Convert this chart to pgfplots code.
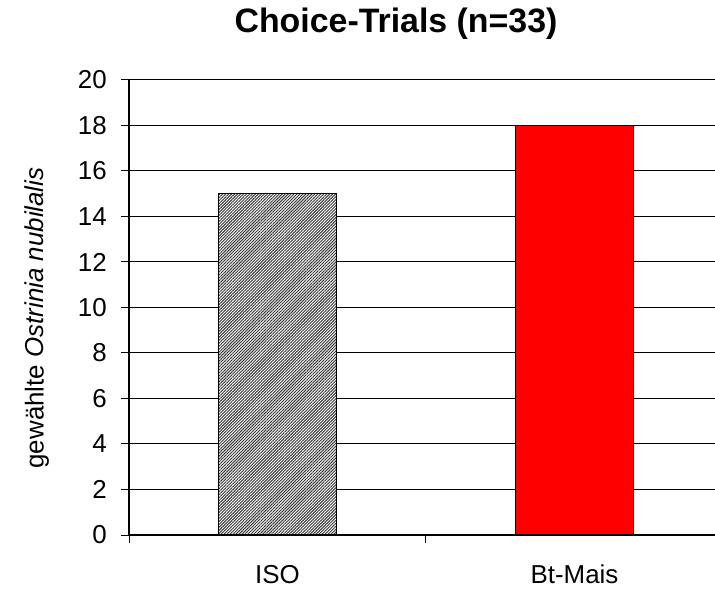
\documentclass[border=0pt]{standalone}
\usepackage{fontspec}
\setmainfont{Liberation Sans}
\usepackage{pgfplots}
\pgfplotsset{compat=1.18}
\usetikzlibrary{patterns.meta}
\begin{document}
\begin{tikzpicture}
\useasboundingbox (0,0) rectangle (715bp,589bp);
\begin{axis}[
  at={(129bp,54bp)}, anchor=south west,
  scale only axis, width=586bp, height=455bp,
  xmin=-0.5, xmax=1.4731, ymin=0, ymax=20,
  axis x line=bottom, axis y line=left,
  axis line style={-, line width=1.1bp, black},
  xtick={0,1}, xticklabels={ISO,Bt-Mais},
  minor xtick={-0.5,0.5,1.5},
  ytick={0,2,...,20},
  tick align=outside,
  major tick length=8bp, minor tick length=8bp,
  major x tick style={draw=none},
  tick style={black, line width=1bp},
  ymajorgrids, major grid style={black, line width=1bp},
  /pgf/number format/assume math mode=true,
  tick label style={font=\fontsize{26}{30}\selectfont, inner sep=0pt},
  yticklabel style={anchor=east, xshift=-14bp},
  xticklabel style={anchor=north, yshift=-22bp},
  clip=false,
]
\addplot[ybar, bar shift=0pt, bar width=118bp, draw=black, line width=1.3bp, fill=white,
  postaction={pattern={Lines[angle=45,distance=2.1bp,line width=0.95bp]}, pattern color=black!80}]
  coordinates {(0,15)};
\addplot[ybar, bar shift=0pt, bar width=118bp, draw=black, line width=1.3bp, fill=red]
  coordinates {(1,18)};
\end{axis}
\node[anchor=base, font=\bfseries\fontsize{34}{40}\selectfont] at (396bp,556bp) {Choice-Trials (n=33)};
\node[rotate=90, font=\fontsize{26}{30}\selectfont] at (37bp,271bp) {gewählte \textit{Ostrinia nubilalis}};
\end{tikzpicture}
\end{document}
